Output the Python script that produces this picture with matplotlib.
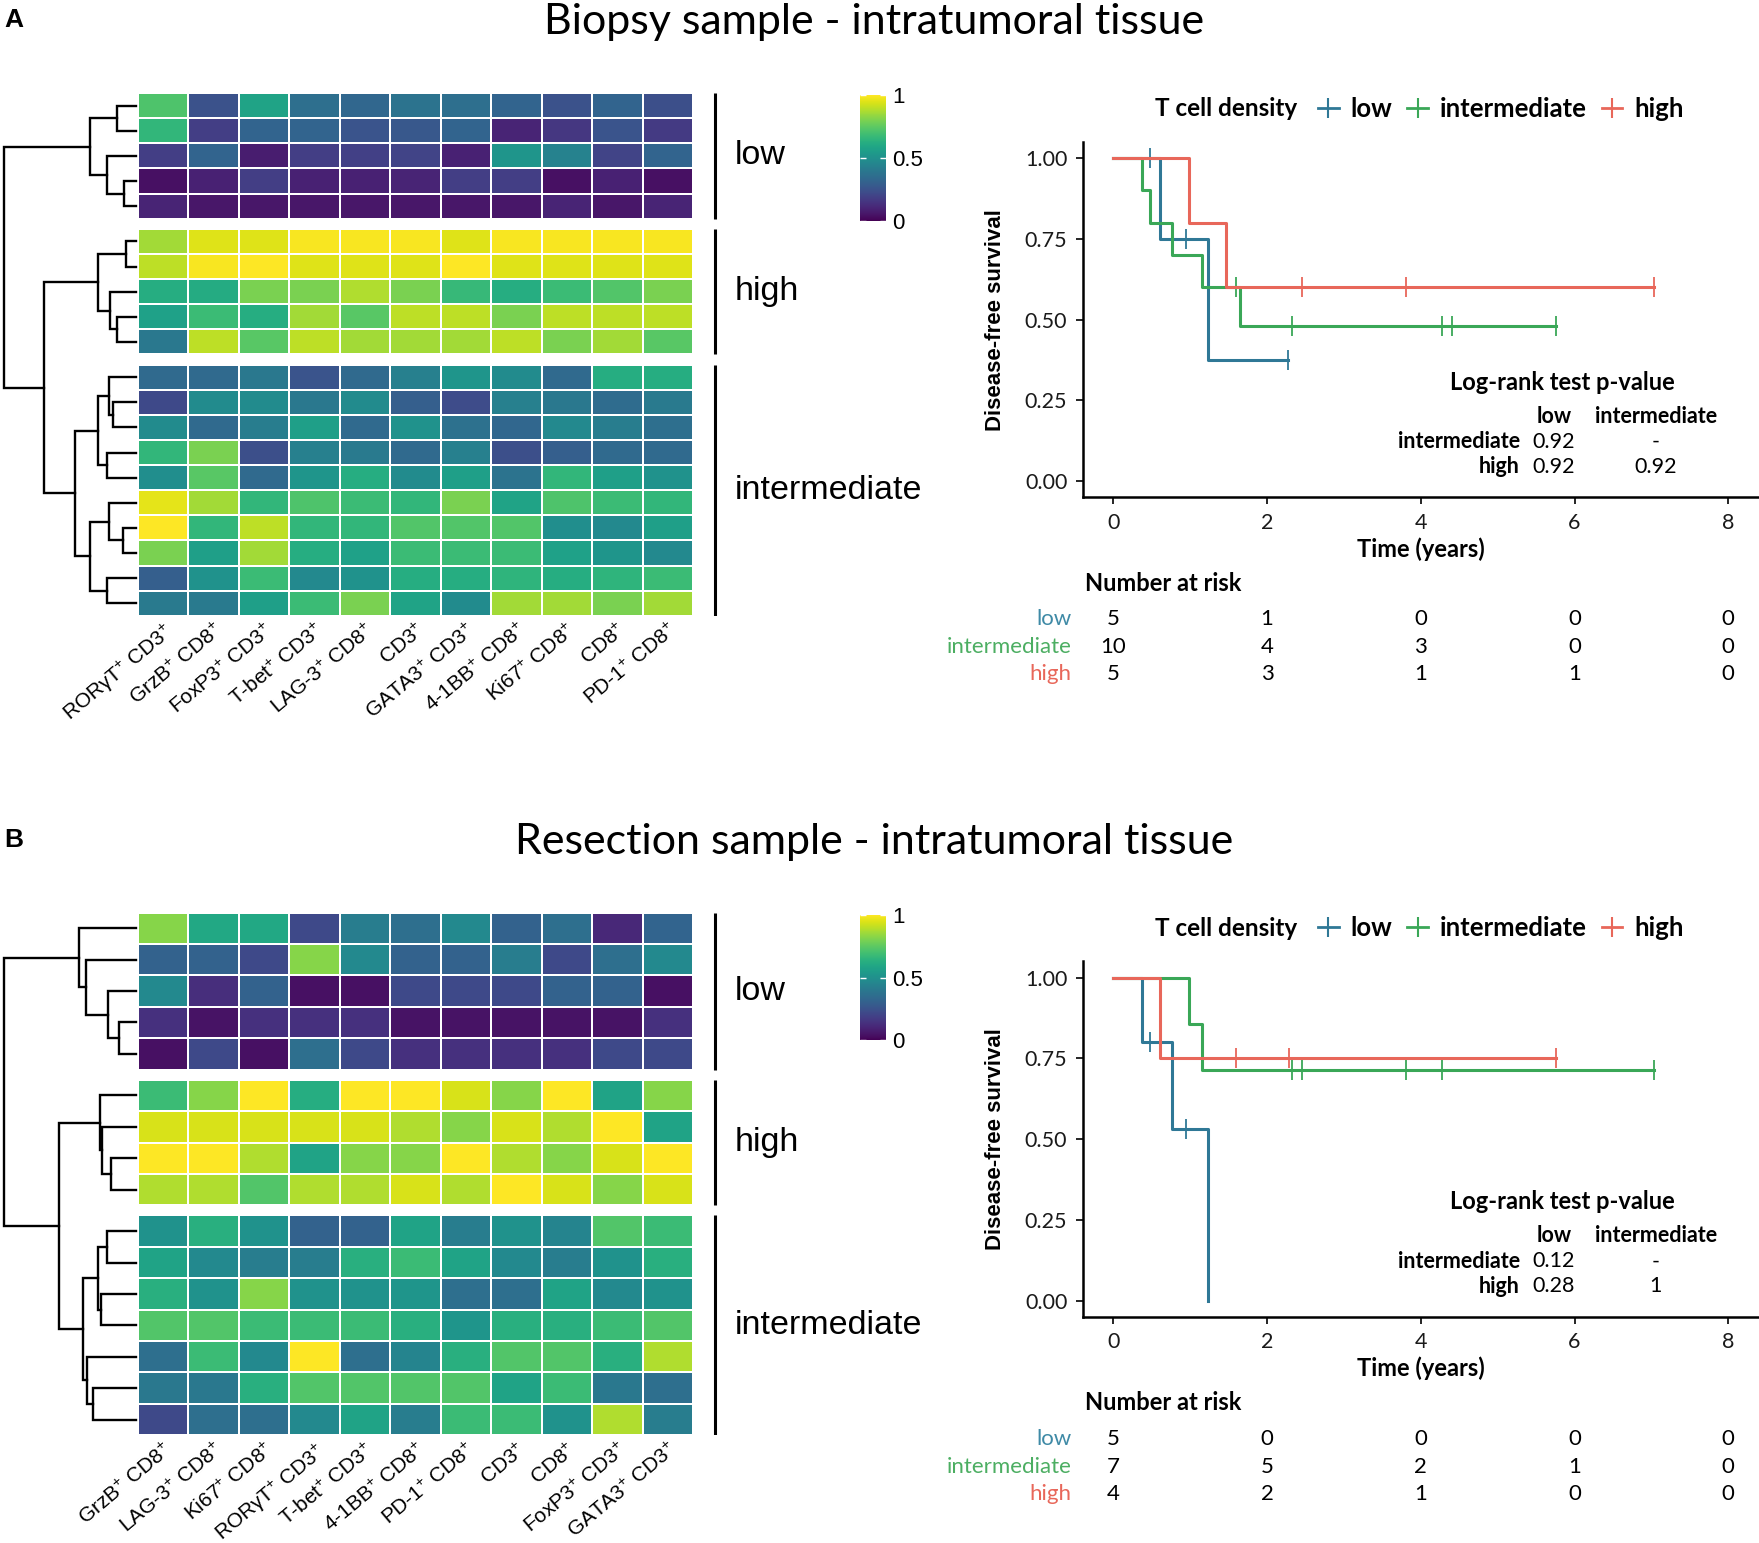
import numpy as np
import matplotlib
matplotlib.use("Agg")
import matplotlib.pyplot as plt
from matplotlib import transforms
from matplotlib.lines import Line2D

plt.rcParams['font.family'] = ['Liberation Sans', 'DejaVu Sans']
plt.rcParams['mathtext.fontset'] = 'custom'
plt.rcParams['mathtext.rm'] = 'Liberation Sans'
plt.rcParams['mathtext.it'] = 'Liberation Sans:italic'
plt.rcParams['mathtext.bf'] = 'Liberation Sans:bold'

KM_FONT = ['Lato', 'DejaVu Sans']

# ---------------- data ----------------
groups = ["low", "intermediate", "high"]
km_colors = {"low": "#2f7896", "intermediate": "#3aa757", "high": "#e8675a"}
risk_colors = {"low": "#3f8aa6", "intermediate": "#4cae62", "high": "#e8675a"}
risk_times = [0, 2, 4, 6, 8]
block_names = ["low", "high", "intermediate"]

# panel A
a_title = "Biopsy sample - intratumoral tissue"
a_markers = ["RORγT$^{+}$ CD3$^{+}$", "GrzB$^{+}$ CD8$^{+}$", "FoxP3$^{+}$ CD3$^{+}$",
             "T-bet$^{+}$ CD3$^{+}$", "LAG-3$^{+}$ CD8$^{+}$", "CD3$^{+}$",
             "GATA3$^{+}$ CD3$^{+}$", "4-1BB$^{+}$ CD8$^{+}$", "Ki67$^{+}$ CD8$^{+}$",
             "CD8$^{+}$", "PD-1$^{+}$ CD8$^{+}$"]
a_low = [[0.72, 0.25, 0.58, 0.36, 0.33, 0.38, 0.36, 0.32, 0.25, 0.32, 0.24],
         [0.66, 0.18, 0.32, 0.32, 0.26, 0.27, 0.32, 0.10, 0.16, 0.26, 0.17],
         [0.18, 0.32, 0.08, 0.18, 0.19, 0.20, 0.09, 0.52, 0.44, 0.20, 0.32],
         [0.04, 0.09, 0.18, 0.09, 0.09, 0.10, 0.18, 0.18, 0.04, 0.09, 0.04],
         [0.10, 0.06, 0.06, 0.06, 0.06, 0.06, 0.06, 0.06, 0.10, 0.06, 0.10]]
a_high = [[0.86, 0.95, 0.95, 0.99, 0.99, 0.99, 0.95, 0.99, 0.99, 0.99, 0.99],
          [0.90, 0.99, 1.00, 0.95, 0.95, 0.95, 1.00, 0.95, 0.95, 0.95, 0.95],
          [0.62, 0.61, 0.80, 0.80, 0.88, 0.80, 0.67, 0.62, 0.68, 0.73, 0.80],
          [0.57, 0.68, 0.62, 0.86, 0.74, 0.90, 0.90, 0.80, 0.90, 0.90, 0.90],
          [0.40, 0.90, 0.74, 0.90, 0.86, 0.86, 0.86, 0.90, 0.80, 0.86, 0.74]]
a_inter = [[0.34, 0.34, 0.40, 0.26, 0.34, 0.43, 0.52, 0.48, 0.34, 0.62, 0.62],
           [0.22, 0.48, 0.48, 0.40, 0.48, 0.30, 0.23, 0.43, 0.40, 0.35, 0.41],
           [0.48, 0.34, 0.42, 0.56, 0.34, 0.51, 0.37, 0.33, 0.47, 0.42, 0.36],
           [0.66, 0.80, 0.24, 0.43, 0.41, 0.34, 0.43, 0.24, 0.30, 0.34, 0.34],
           [0.49, 0.74, 0.34, 0.52, 0.62, 0.48, 0.56, 0.38, 0.66, 0.56, 0.51],
           [0.96, 0.86, 0.66, 0.72, 0.68, 0.66, 0.80, 0.58, 0.72, 0.68, 0.66],
           [1.00, 0.66, 0.90, 0.66, 0.66, 0.73, 0.73, 0.73, 0.49, 0.47, 0.56],
           [0.80, 0.56, 0.86, 0.62, 0.57, 0.68, 0.68, 0.68, 0.57, 0.52, 0.47],
           [0.30, 0.51, 0.68, 0.47, 0.51, 0.62, 0.62, 0.65, 0.62, 0.65, 0.68],
           [0.41, 0.41, 0.56, 0.68, 0.80, 0.58, 0.48, 0.86, 0.86, 0.80, 0.86]]
# dendrogram: (left, right, merge height); leaves are row numbers
a_tree = ((((0, 1, 45), (2, (3, 4, 30), 68), 105)),
          (((5, 6, 25), (7, (8, 9, 45), 60), 88),
           ((((10, (11, 12, 55), 63), (13, 14, 68), 87),
             ((15, (16, 17, 32), 63), (18, 19, 68), 105), 138)), 205), 292)

a_km = {
    "low": dict(t=[0, 0.61, 1.23], s=[1.0, 0.75, 0.375], end=2.27,
                cens=[0.48, 0.94, 2.27]),
    "intermediate": dict(t=[0, 0.37, 0.48, 0.77, 1.15, 1.65],
                         s=[1.0, 0.9, 0.8, 0.7, 0.6, 0.48], end=5.76,
                         cens=[1.59, 2.32, 4.27, 4.40, 5.76]),
    "high": dict(t=[0, 0.99, 1.47], s=[1.0, 0.8, 0.6], end=7.04,
                 cens=[2.45, 3.81, 7.04]),
}
a_risk = {"low": [5, 1, 0, 0, 0], "intermediate": [10, 4, 3, 0, 0], "high": [5, 3, 1, 1, 0]}
a_pval = {"intermediate": ["0.92", "-"], "high": ["0.92", "0.92"]}

# panel B
b_title = "Resection sample - intratumoral tissue"
b_markers = ["GrzB$^{+}$ CD8$^{+}$", "LAG-3$^{+}$ CD8$^{+}$", "Ki67$^{+}$ CD8$^{+}$",
             "RORγT$^{+}$ CD3$^{+}$", "T-bet$^{+}$ CD3$^{+}$", "4-1BB$^{+}$ CD8$^{+}$",
             "PD-1$^{+}$ CD8$^{+}$", "CD3$^{+}$", "CD8$^{+}$", "FoxP3$^{+}$ CD3$^{+}$",
             "GATA3$^{+}$ CD3$^{+}$"]
b_low = [[0.82, 0.60, 0.60, 0.22, 0.42, 0.36, 0.47, 0.31, 0.36, 0.11, 0.32],
         [0.31, 0.31, 0.22, 0.82, 0.47, 0.31, 0.31, 0.42, 0.22, 0.36, 0.47],
         [0.47, 0.13, 0.31, 0.04, 0.04, 0.22, 0.22, 0.22, 0.31, 0.31, 0.04],
         [0.14, 0.05, 0.14, 0.14, 0.14, 0.05, 0.05, 0.05, 0.05, 0.05, 0.14],
         [0.04, 0.22, 0.04, 0.36, 0.22, 0.14, 0.14, 0.14, 0.14, 0.22, 0.22]]
b_high = [[0.68, 0.82, 1.00, 0.62, 1.00, 1.00, 0.94, 0.82, 1.00, 0.58, 0.82],
          [0.94, 0.94, 0.94, 0.94, 0.94, 0.88, 0.82, 0.94, 0.88, 1.00, 0.58],
          [1.00, 1.00, 0.88, 0.58, 0.82, 0.82, 1.00, 0.88, 0.82, 0.94, 1.00],
          [0.88, 0.88, 0.73, 0.88, 0.88, 0.94, 0.88, 1.00, 0.94, 0.82, 0.94]]
b_inter = [[0.51, 0.63, 0.51, 0.31, 0.31, 0.58, 0.42, 0.51, 0.45, 0.73, 0.68],
           [0.58, 0.47, 0.42, 0.42, 0.63, 0.68, 0.58, 0.47, 0.42, 0.51, 0.63],
           [0.63, 0.51, 0.82, 0.51, 0.51, 0.52, 0.36, 0.36, 0.58, 0.47, 0.51],
           [0.73, 0.73, 0.68, 0.68, 0.68, 0.63, 0.52, 0.63, 0.63, 0.68, 0.73],
           [0.36, 0.68, 0.47, 1.00, 0.36, 0.45, 0.63, 0.73, 0.73, 0.63, 0.88],
           [0.40, 0.40, 0.63, 0.73, 0.73, 0.73, 0.73, 0.58, 0.68, 0.40, 0.36],
           [0.22, 0.36, 0.36, 0.47, 0.58, 0.42, 0.68, 0.68, 0.51, 0.88, 0.42]]
b_tree = ((0, (1, (2, (3, 4, 42), 66), 112), 128),
          ((5, (6, (7, 8, 58), 78), 82),
           (((9, 10, 68), (11, 12, 80), 88), (13, (14, 15, 98), 110), 120), 172), 292)

b_km = {
    "low": dict(t=[0, 0.37, 0.77, 1.23], s=[1.0, 0.8, 0.533, 0.0], end=1.23,
                cens=[0.48, 0.94]),
    "intermediate": dict(t=[0, 0.99, 1.16], s=[1.0, 0.857, 0.714], end=7.04,
                         cens=[2.32, 2.45, 3.81, 4.27, 7.04]),
    "high": dict(t=[0, 0.61], s=[1.0, 0.75], end=5.76, cens=[1.59, 2.28, 5.76]),
}
b_risk = {"low": [5, 0, 0, 0, 0], "intermediate": [7, 5, 2, 1, 0], "high": [4, 2, 1, 0, 0]}
b_pval = {"intermediate": ["0.12", "-"], "high": ["0.28", "1"]}

# ---------------- layout helpers (reference pixel grid) ----------------
W_D, H_D = 1568.0, 1375.5
fig = plt.figure(figsize=(17.59, 15.43), dpi=100)


def box(x0, y0, x1, y1):
    return [x0 / W_D, 1 - y1 / H_D, (x1 - x0) / W_D, (y1 - y0) / H_D]


def fx(x):
    return x / W_D


def fy(y):
    return 1 - y / H_D


LEAF_H = 4


def draw_tree(ax, node, ypos):
    if isinstance(node, int):
        return ypos[node], LEAF_H
    left, right, h = node
    yl, hl = draw_tree(ax, left, ypos)
    yr, hr = draw_tree(ax, right, ypos)
    ax.plot([hl, h, h, hr], [yl, yl, yr, yr], color="black", lw=1.7,
            solid_joinstyle="miter")
    return (yl + yr) / 2, h


def panel(off, letter, title, markers, blocks, tree, km, risk, pval):
    fig.text(fx(4), fy(18 + off), letter, fontsize=19, fontweight="bold",
             ha="left", va="center")
    fig.text(fx(779), fy(20 + off), title, fontsize=31, family=KM_FONT,
             ha="center", va="center")

    # heatmap rows in pixel units (top = 0)
    total, gap = 466.0, 9.0
    nrows = sum(len(b) for b in blocks)
    rh = (total - gap * (len(blocks) - 1)) / nrows
    ax_h = fig.add_axes(box(123, 83 + off, 618, 549 + off))
    ax_d = fig.add_axes(box(0, 83 + off, 123, 549 + off), sharey=ax_h)
    ax_g = fig.add_axes(box(630, 83 + off, 760, 549 + off), sharey=ax_h)
    ypos = []
    y = 0.0
    spans = []
    for blk in blocks:
        arr = np.array(blk)
        edges = y + np.arange(arr.shape[0] + 1) * rh
        mesh = ax_h.pcolormesh(np.arange(arr.shape[1] + 1), edges, arr,
                               cmap="viridis", vmin=0, vmax=1,
                               edgecolors="white", linewidth=1.3)
        ypos += list((edges[:-1] + edges[1:]) / 2)
        spans.append((edges[0], edges[-1]))
        y = edges[-1] + gap
    ax_h.set_ylim(total, 0)
    ax_h.set_xlim(0, len(markers))
    ax_h.set_xticks(np.arange(len(markers)) + 0.5)
    ax_h.set_xticklabels(markers, rotation=40, ha="right", va="top",
                         rotation_mode="anchor", fontsize=15)
    ax_h.tick_params(axis="x", length=0, pad=3)
    ax_h.tick_params(axis="y", left=False, labelleft=False)
    for s in ax_h.spines.values():
        s.set_visible(False)

    draw_tree(ax_d, tree, ypos)
    ax_d.set_xlim(300, 0)
    ax_d.axis("off")

    ax_g.set_xlim(0, 130)
    for (y0, y1), name in zip(spans, block_names):
        ax_g.plot([7, 7], [y0, y1], color="black", lw=2.2, solid_capstyle="butt")
        ax_g.text(25, (y0 + y1) / 2, name, fontsize=24.5, ha="left", va="center")
    ax_g.axis("off")

    cax = fig.add_axes(box(767, 85 + off, 790, 197 + off))
    cb = fig.colorbar(mesh, cax=cax, ticks=[0, 0.5, 1])
    cb.outline.set_visible(False)
    cb.ax.set_yticklabels(["0", "0.5", "1"])
    cax.tick_params(direction="in", length=4, width=1, color="white",
                    left=True, right=True, labelsize=16, pad=4)

    # Kaplan-Meier
    ax = fig.add_axes(box(965, 126.6 + off, 1568, 443.4 + off))
    for g in groups:
        d = km[g]
        tt = d["t"] + [d["end"]]
        ss = d["s"] + [d["s"][-1]]
        ax.step(tt, ss, where="post", color=km_colors[g], lw=2.2)
        cy = [d["s"][np.searchsorted(d["t"], c, side="right") - 1] for c in d["cens"]]
        ax.plot(d["cens"], cy, ls="none", marker="|", markersize=14,
                markeredgewidth=1.3, color=km_colors[g])
    ax.set_xlim(-0.4, 8.4)
    ax.set_ylim(-0.05, 1.05)
    ax.set_xticks(risk_times)
    ax.set_yticks([0, 0.25, 0.5, 0.75, 1.0])
    ax.set_yticklabels(["0.00", "0.25", "0.50", "0.75", "1.00"])
    for s in ["top", "right"]:
        ax.spines[s].set_visible(False)
    for s in ["left", "bottom"]:
        ax.spines[s].set_linewidth(1.8)
    ax.tick_params(length=5, width=1.2, labelsize=15.5, pad=6)
    for lab in ax.get_xticklabels() + ax.get_yticklabels():
        lab.set_family(KM_FONT)
        lab.set_color("#1a1a1a")
    ax.set_ylabel("Disease-free survival", fontsize=16, fontweight="bold")
    ax.yaxis.set_label_coords((897 - 965) / 603, 0.5)
    ax.set_xlabel("Time (years)", fontsize=17, fontweight="bold", family=KM_FONT)
    ax.xaxis.set_label_coords(0.5, (443.4 - 479) / 316.8)

    fig.text(fx(1030), fy(97 + off), "T cell density", fontsize=17.5,
             fontweight="bold", family=KM_FONT, ha="left", va="center")
    handles = [Line2D([], [], color=km_colors[g], lw=2, marker="|", markersize=14,
                      markeredgewidth=1.5) for g in groups]
    ax.legend(handles, groups, loc="center left",
              bbox_to_anchor=(fx(1175), fy(97 + off)), bbox_transform=fig.transFigure,
              ncol=3, frameon=False, handlelength=0.8, handletextpad=0.45,
              columnspacing=0.6, borderpad=0, borderaxespad=0,
              prop=dict(family=KM_FONT, weight="bold", size=18.5))

    # log-rank table
    fig.text(fx(1393), fy(341 + off), "Log-rank test p-value", fontsize=17,
             fontweight="bold", family=KM_FONT, ha="center", va="center")
    for xc, head in zip([1385, 1476], ["low", "intermediate"]):
        fig.text(fx(xc), fy(371 + off), head, fontsize=15.5, fontweight="bold",
                 family=KM_FONT, ha="center", va="center")
    for yr, row in zip([394, 416], ["intermediate", "high"]):
        fig.text(fx(1355), fy(yr + off), row, fontsize=15.5, fontweight="bold",
                 family=KM_FONT, ha="right", va="center")
        for xc, v in zip([1385, 1476], pval[row]):
            fig.text(fx(xc), fy(yr + off), v, fontsize=15.5, family=KM_FONT,
                     ha="center", va="center")

    # number at risk
    fig.text(fx(967), fy(520 + off), "Number at risk", fontsize=17,
             fontweight="bold", family=KM_FONT, ha="left", va="center")
    tr = transforms.blended_transform_factory(ax.transData, fig.transFigure)
    for yr, g in zip([552, 577, 601], groups):
        fig.text(fx(955), fy(yr + off), g, fontsize=16, color=risk_colors[g],
                 family=KM_FONT, ha="right", va="center")
        for t, n in zip(risk_times, risk[g]):
            ax.text(t, fy(yr + off), str(n), transform=tr, fontsize=16,
                    family=KM_FONT, ha="center", va="center", clip_on=False)


panel(0, "A", a_title, a_markers, [a_low, a_high, a_inter], a_tree, a_km, a_risk, a_pval)
panel(730.5, "B", b_title, b_markers, [b_low, b_high, b_inter], b_tree, b_km, b_risk, b_pval)

fig.savefig("out.png", dpi=100, facecolor="white")
